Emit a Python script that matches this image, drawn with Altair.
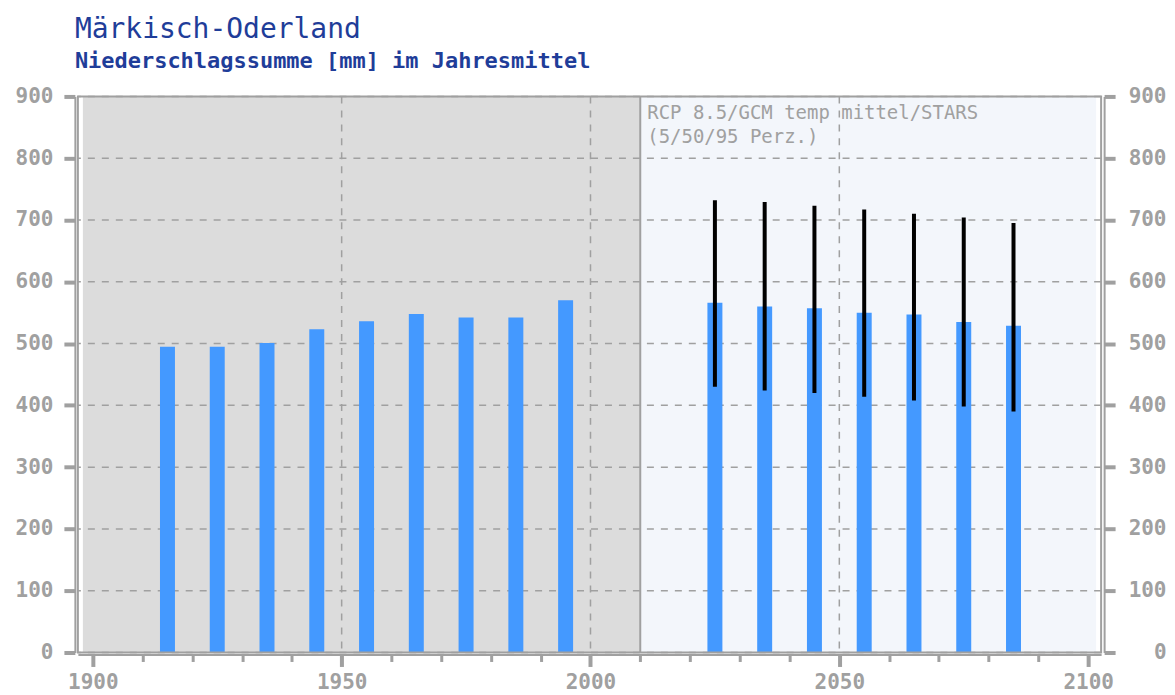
import altair as alt
import pandas as pd

# ---- data -------------------------------------------------------------
hist_years = [1915, 1925, 1935, 1945, 1955, 1965, 1975, 1985, 1995]
hist_values = [495, 495, 501, 523, 536, 548, 542, 542, 570]

proj_years = [2025, 2035, 2045, 2055, 2065, 2075, 2085]
proj_p50 = [566, 560, 557, 550, 547, 535, 529]
proj_p5 = [430, 424, 420, 414, 408, 398, 390]
proj_p95 = [732, 729, 723, 717, 710, 704, 695]

y_ticks = [0, 100, 200, 300, 400, 500, 600, 700, 800, 900]
x_ticks = list(range(1900, 2101, 10))
x_grid = [1950, 2000, 2050]
split_year = 2010

title = "Märkisch-Oderland"
subtitle = "Niederschlagssumme [mm] im Jahresmittel"
note = ["RCP 8.5/GCM temp mittel/STARS", "(5/50/95 Perz.)"]

# ---- styling ----------------------------------------------------------
XMIN, XMAX = 1898.0, 2101.6
W, H = 1025, 557
GRAY = "#a0a0a0"
MONO = "DejaVu Sans Mono"
BAR = "#4499ff"

bars_df = pd.DataFrame(
    {"year": hist_years + proj_years, "value": hist_values + proj_p50}
)
err_df = pd.DataFrame({"year": proj_years, "p5": proj_p5, "p95": proj_p95})
regions_df = pd.DataFrame(
    {
        "start": [XMIN, split_year],
        "end": [split_year, XMAX],
        "period": ["hist", "proj"],
    }
)
hgrid_df = pd.DataFrame({"v": y_ticks})
vgrid_df = pd.DataFrame({"year": x_grid})

xscale = alt.Scale(domain=[XMIN, XMAX], nice=False, zero=False)
yscale = alt.Scale(domain=[0, 900], nice=False)

yaxis_common = dict(
    values=y_ticks,
    offset=3,
    domainColor=GRAY,
    domainWidth=2,
    tickColor=GRAY,
    tickWidth=4,
    tickSize=11,
    labelFont=MONO,
    labelFontWeight="bold",
    labelFontSize=21,
    labelColor=GRAY,
    grid=False,
    title=None,
)

xaxis = alt.Axis(
    orient="bottom",
    values=x_ticks,
    labelExpr="datum.value % 50 === 0 ? datum.value : ''",
    offset=2,
    domainColor=GRAY,
    domainWidth=2,
    tickColor=GRAY,
    tickSize={"condition": {"test": "datum.value % 50 === 0", "value": 12}, "value": 7},
    tickWidth={"condition": {"test": "datum.value % 50 === 0", "value": 4}, "value": 3},
    labelFont=MONO,
    labelFontWeight="bold",
    labelFontSize=21,
    labelColor=GRAY,
    labelPadding=5,
    labelFlush=False,
    labelOverlap=False,
    grid=False,
    title=None,
)

background = alt.Chart(regions_df).mark_rect().encode(
    x=alt.X("start:Q", scale=xscale, axis=None),
    x2="end:Q",
    color=alt.Color(
        "period:N",
        scale=alt.Scale(domain=["hist", "proj"], range=["#dcdcdc", "#f3f6fb"]),
        legend=None,
    ),
)

split_line = alt.Chart(pd.DataFrame({"year": [split_year]})).mark_rule(
    color=GRAY, strokeWidth=2
).encode(x=alt.X("year:Q", scale=xscale, axis=None))

hgrid = alt.Chart(hgrid_df).mark_rule(
    color=GRAY, strokeWidth=1.5, strokeDash=[7, 7]
).encode(
    y=alt.Y(
        "v:Q",
        scale=yscale,
        axis=alt.Axis(orient="right", labelAlign="right", labelPadding=51, **yaxis_common),
    ),
)

vgrid = alt.Chart(vgrid_df).mark_rule(
    color=GRAY, strokeWidth=1.5, strokeDash=[7, 7]
).encode(x=alt.X("year:Q", scale=xscale, axis=None))

bars = alt.Chart(bars_df).mark_bar(size=15, color=BAR).encode(
    x=alt.X("year:Q", scale=xscale, axis=xaxis),
    y=alt.Y(
        "value:Q",
        scale=yscale,
        axis=alt.Axis(orient="left", labelPadding=11, **yaxis_common),
    ),
)

errs = alt.Chart(err_df).mark_rule(color="black", strokeWidth=4).encode(
    x=alt.X("year:Q", scale=xscale, axis=None),
    y=alt.Y("p5:Q", scale=yscale, axis=None),
    y2="p95:Q",
)

annot = alt.Chart(pd.DataFrame({"a": [0]})).mark_text(
    text=note,
    align="left",
    baseline="top",
    font=MONO,
    fontSize=19,
    color=GRAY,
    lineHeight=24,
    dx=7,
    dy=8,
).encode(
    x=alt.X(datum=split_year, scale=xscale, axis=None),
    y=alt.Y(datum=900, scale=yscale, axis=None),
)

frame = alt.Chart(pd.DataFrame({"a": [0]})).mark_rect(
    fillOpacity=0, stroke=GRAY, strokeWidth=2
).encode(
    x=alt.value(0), x2=alt.value(W), y=alt.value(0), y2=alt.value(H)
)

chart = (
    alt.layer(background, split_line, hgrid, vgrid, bars, errs, annot, frame)
    .resolve_axis(x="independent", y="independent")
    .properties(
        width=W,
        height=H,
        autosize=alt.AutoSizeParams(type="none"),
        padding={"left": 70, "top": 88, "right": 66, "bottom": 42},
        title=alt.TitleParams(
            text=title,
            subtitle=subtitle,
            anchor="start",
            frame="group",
            dx=-3,
            offset=13,
            font=MONO,
            fontSize=28,
            fontWeight="normal",
            color="#1f3d99",
            subtitleFont=MONO,
            subtitleFontSize=22,
            subtitleFontWeight="bold",
            subtitleColor="#1f3d99",
            subtitlePadding=8,
        ),
    )
    .configure_view(stroke=None)
)

chart.save("out.html", embed_options={"renderer": "svg", "actions": False})
